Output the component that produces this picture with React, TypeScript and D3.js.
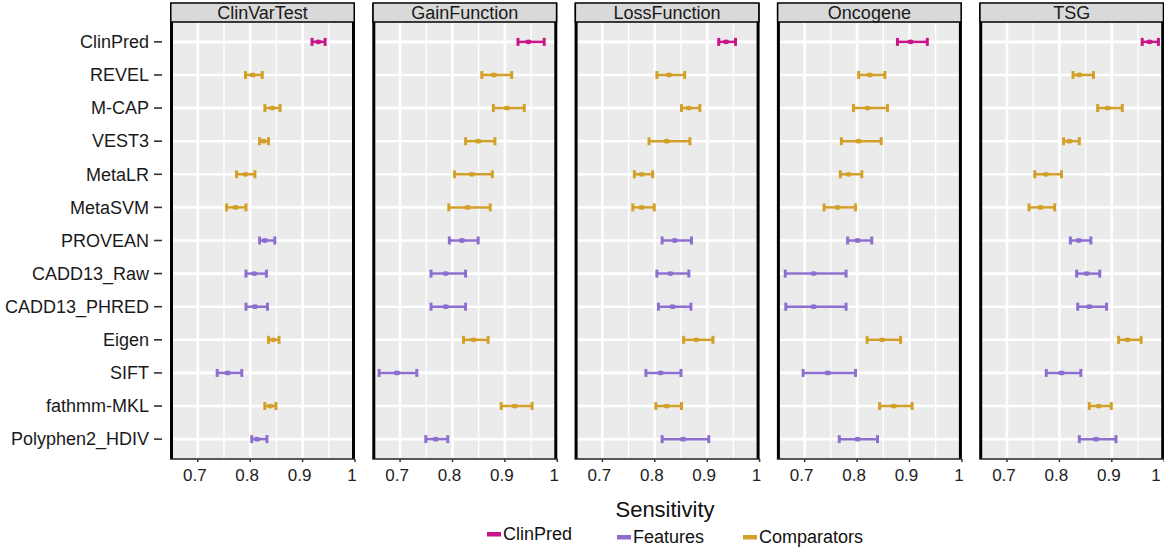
import React from "react";
import * as d3 from "d3";

// rows, top to bottom
const methods = [
  "ClinPred", "REVEL", "M-CAP", "VEST3", "MetaLR", "MetaSVM", "PROVEAN",
  "CADD13_Raw", "CADD13_PHRED", "Eigen", "SIFT", "fathmm-MKL", "Polyphen2_HDIV",
];
const groupOf = [
  "ClinPred", "Comparators", "Comparators", "Comparators", "Comparators", "Comparators",
  "Features", "Features", "Features", "Comparators", "Features", "Comparators", "Features",
];
const panels = ["ClinVarTest", "GainFunction", "LossFunction", "Oncogene", "TSG"];

// [lower, estimate, upper] per method
const clinVarTest = [
  [0.918, 0.93, 0.943], [0.791, 0.805, 0.823], [0.828, 0.842, 0.857], [0.818, 0.825, 0.835],
  [0.774, 0.791, 0.809], [0.755, 0.772, 0.792], [0.818, 0.828, 0.847], [0.792, 0.808, 0.831],
  [0.792, 0.809, 0.833], [0.835, 0.844, 0.855], [0.737, 0.757, 0.784], [0.828, 0.838, 0.849],
  [0.803, 0.813, 0.832],
];
const gainFunction = [
  [0.925, 0.945, 0.975], [0.856, 0.879, 0.913], [0.878, 0.904, 0.937], [0.825, 0.849, 0.881],
  [0.804, 0.837, 0.876], [0.793, 0.829, 0.872], [0.794, 0.818, 0.849], [0.759, 0.787, 0.825],
  [0.759, 0.787, 0.825], [0.821, 0.84, 0.868], [0.66, 0.694, 0.732], [0.893, 0.919, 0.952],
  [0.749, 0.768, 0.791],
];
const lossFunction = [
  [0.922, 0.936, 0.954], [0.804, 0.827, 0.857], [0.851, 0.865, 0.886], [0.789, 0.823, 0.867],
  [0.761, 0.775, 0.796], [0.758, 0.775, 0.799], [0.814, 0.838, 0.87], [0.804, 0.83, 0.865],
  [0.807, 0.834, 0.869], [0.855, 0.879, 0.911], [0.783, 0.811, 0.85], [0.802, 0.823, 0.851],
  [0.814, 0.854, 0.903],
];
const oncogene = [
  [0.877, 0.902, 0.934], [0.803, 0.824, 0.853], [0.793, 0.82, 0.858], [0.77, 0.803, 0.846],
  [0.768, 0.784, 0.809], [0.737, 0.763, 0.797], [0.782, 0.801, 0.828], [0.663, 0.717, 0.779],
  [0.664, 0.717, 0.779], [0.819, 0.848, 0.883], [0.697, 0.744, 0.797], [0.843, 0.87, 0.905],
  [0.766, 0.801, 0.839],
];
const tsg = [
  [0.958, 0.972, 0.989], [0.826, 0.838, 0.865], [0.873, 0.892, 0.92], [0.808, 0.819, 0.838],
  [0.753, 0.774, 0.804], [0.742, 0.764, 0.791], [0.821, 0.837, 0.86], [0.833, 0.852, 0.877],
  [0.835, 0.857, 0.89], [0.913, 0.93, 0.956], [0.775, 0.804, 0.841], [0.857, 0.875, 0.899],
  [0.838, 0.87, 0.908],
];
const panelData = [clinVarTest, gainFunction, lossFunction, oncogene, tsg];

const majorTicks = [0.7, 0.8, 0.9, 1];
const minorTicks = [0.65, 0.75, 0.85, 0.95];
const legendGroups = ["ClinPred", "Features", "Comparators"];

const FONT = "'Liberation Sans', Arial, sans-serif";

export default function App() {
  const width = 1164;
  const height = 548;
  const stripTop = 3;
  const top = 22;
  const bottom = 459;
  const panelW = 185;
  const panelStep = 202.3;
  const left0 = 170;

  const color = d3
    .scaleOrdinal<string, string>()
    .domain(legendGroups)
    .range(["#C8168A", "#8E6FCF", "#D3A12A"]);

  const y = d3.scalePoint<string>().domain(methods).range([top, bottom]).padding(0.6);
  const x = d3.scaleLinear().domain([0.647, 1.0]).range([0, panelW]);

  return (
    <svg
      width={width}
      height={height}
      style={{ position: "absolute", left: 0, top: 0, background: "#fff" }}
      fontFamily={FONT}
    >
      {/* y labels */}
      {methods.map((m) => (
        <g key={m}>
          <text x={149} y={y(m)!} dy="0.35em" textAnchor="end" fontSize={18} fill="#1a1a1a">
            {m}
          </text>
          <line x1={154} x2={162} y1={y(m)!} y2={y(m)!} stroke="#333" strokeWidth={1.6} />
        </g>
      ))}

      {panels.map((p, pi) => {
        const left = left0 + pi * panelStep;
        const rows = panelData[pi];
        return (
          <g key={p} transform={`translate(${left},0)`}>
            <rect x={0} y={top} width={panelW} height={bottom - top} fill="#EBEBEB" />
            {minorTicks.map((t) => (
              <line key={t} x1={x(t)} x2={x(t)} y1={top} y2={bottom} stroke="#fff" strokeWidth={1.3} />
            ))}
            {majorTicks.map((t) => (
              <line key={t} x1={x(t)} x2={x(t)} y1={top} y2={bottom} stroke="#fff" strokeWidth={2.6} />
            ))}
            {methods.map((m) => (
              <line key={m} x1={0} x2={panelW} y1={y(m)!} y2={y(m)!} stroke="#fff" strokeWidth={2.6} />
            ))}

            {/* error bars */}
            {rows.map(([lo, est, hi], i) => {
              const cy = y(methods[i])!;
              const c = color(groupOf[i]);
              return (
                <g key={i}>
                  <line x1={x(lo)} x2={x(hi)} y1={cy} y2={cy} stroke={c} strokeWidth={2.5} />
                  <line x1={x(lo)} x2={x(lo)} y1={cy - 4} y2={cy + 4} stroke={c} strokeWidth={3} />
                  <line x1={x(hi)} x2={x(hi)} y1={cy - 4} y2={cy + 4} stroke={c} strokeWidth={3} />
                  <ellipse cx={x(est)} cy={cy} rx={3.2} ry={2.4} fill={c} />
                </g>
              );
            })}

            {/* borders */}
            <line x1={1.5} x2={1.5} y1={stripTop} y2={bottom} stroke="#000" strokeWidth={3} />
            <line x1={panelW - 1.5} x2={panelW - 1.5} y1={stripTop} y2={bottom} stroke="#000" strokeWidth={3} />
            <line x1={0} x2={panelW} y1={bottom} y2={bottom} stroke="#222" strokeWidth={1.5} />

            {/* strip */}
            <rect x={0.75} y={stripTop} width={panelW - 1.5} height={top - stripTop} fill="#D9D9D9" stroke="#000" strokeWidth={1.5} />
            <text x={panelW / 2} y={(stripTop + top) / 2} dy="0.36em" textAnchor="middle" fontSize={18} fill="#1a1a1a">
              {p}
            </text>

            {/* x ticks */}
            {majorTicks.map((t) => {
              const lx = Math.min(x(t) - 3, width - 8 - left);
              return (
                <g key={t}>
                  <line x1={x(t)} x2={x(t)} y1={bottom} y2={bottom + 3} stroke="#333" strokeWidth={1.5} />
                  <text x={lx} y={bottom + 16} dy="0.35em" textAnchor="middle" fontSize={17} fill="#222">
                    {d3.format("")(t)}
                  </text>
                </g>
              );
            })}
          </g>
        );
      })}

      {/* axis title */}
      <text x={665} y={517} textAnchor="middle" fontSize={22} fill="#111">
        Sensitivity
      </text>

      {/* legend */}
      {legendGroups.map((g, i) => {
        const lx = [487, 617, 743][i];
        const ly = [534, 537, 537][i];
        return (
          <g key={g}>
            <rect x={lx} y={ly - 2} width={14} height={4.5} fill={color(g)} />
            <text x={lx + 16} y={ly} dy="0.36em" fontSize={18} fill="#111">
              {g}
            </text>
          </g>
        );
      })}
    </svg>
  );
}
